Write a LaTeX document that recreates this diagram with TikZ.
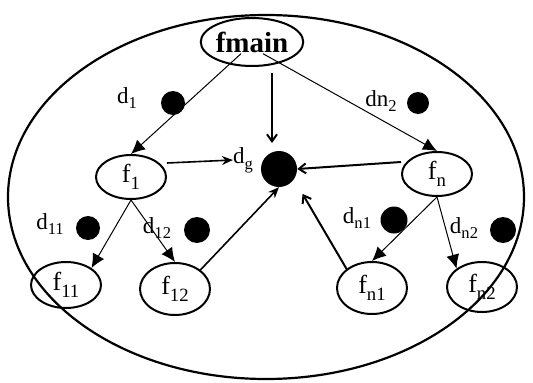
\documentclass[tikz,border=0pt]{standalone}
\usepackage{fontspec}
\setmainfont{Liberation Serif}
\usetikzlibrary{arrows.meta,shapes.geometric}
\newcommand{\lbl}[2]{#1\raisebox{-0.25em}{\scalebox{0.72}{#2}}}
\begin{document}
\begin{tikzpicture}[x=1pt,y=-1pt,
  fn/.style={draw,ellipse,line width=2pt,minimum width=70pt,minimum height=44pt,inner sep=0pt,font=\fontsize{26}{28}\selectfont},
  dot/.style={circle,fill=black,inner sep=0pt,minimum size=#1},
  dlab/.style={font=\fontsize{23}{25}\selectfont,inner sep=0pt},
  tree/.style={line width=1pt,-{Latex[length=14pt,width=13pt]}},
  todg/.style={line width=2pt,-{Straight Barb[length=7pt,width=10pt]}},
  todgs/.style={line width=1.6pt,-{Stealth[length=11pt,width=9pt]}}]
\useasboundingbox (0,0) rectangle (533,383);
% outer boundary
\draw[line width=2.2pt] (266,197) ellipse (258pt and 182pt);
% function nodes
\node[fn,minimum width=92pt,minimum height=48pt,font=\fontsize{29}{31}\selectfont\bfseries] (fmain) at (252,42) {fmain};
\node[fn] (f1) at (131,177) {\lbl{f}{1}};
\node[fn] (fn) at (437,174) {\lbl{f}{n}};
\node[fn,minimum height=46pt] (f11) at (66,285) {\lbl{f}{11}};
\node[fn,minimum height=52pt] (f12) at (175,289) {\lbl{f}{12}};
\node[fn,minimum height=52pt] (fn1) at (372,288) {\lbl{f}{n1}};
\node[fn,minimum height=50pt] (fn2) at (482,287) {\lbl{f}{n2}};
% data items
\node[dot=36pt] (dg) at (279,169) {};
\node[dlab] (ldg) at (243,160) {\lbl{d}{g}};
\node[dot=24pt] (d1) at (173,103) {};
\node[dlab] (ld1) at (127,98) {\lbl{d}{1}};
\node[dot=22pt] (dn) at (418,103) {};
\node[dlab] (ldn) at (381,101) {d\lbl{n}{2}};
\node[dot=24pt] (d11) at (88,228) {};
\node[dlab] (ld11) at (50,224) {\lbl{d}{11}};
\node[dot=26pt] (d12) at (197,230) {};
\node[dlab] (ld12) at (157,228) {\lbl{d}{12}};
\node[dot=27pt] (dn1) at (394,220) {};
\node[dlab] (ldn1) at (357,218) {\lbl{d}{n1}};
\node[dot=26pt] (dn2) at (503,230) {};
\node[dlab] (ldn2) at (464,228) {\lbl{d}{n2}};
% call tree
\draw[tree] (fmain.south west) ++(26,-6) -- (f1.north);
\draw[tree] (fmain.south east) ++(-26,-6) -- (fn.north);
\draw[tree] (f1.south) -- (f11.north east);
\draw[tree] (f1.south) -- (f12.north);
\draw[tree] (fn.south) -- (fn1.north);
\draw[tree] (fn.south) -- (fn2.north west);
% accesses to the shared datum
\draw[todg] (fmain.south) ++(20,6) -- ++(0,70);
\draw[todgs] (f1.east) ++(0,-14) -- (ldg.west);
\draw[todg] (fn.west) ++(0,-12) -- (dg.east);
\draw[todgs] (f12.north east) -- (dg.south);
\draw[todg] (fn1.north west) -- ++(-44,-75);
\end{tikzpicture}
\end{document}
